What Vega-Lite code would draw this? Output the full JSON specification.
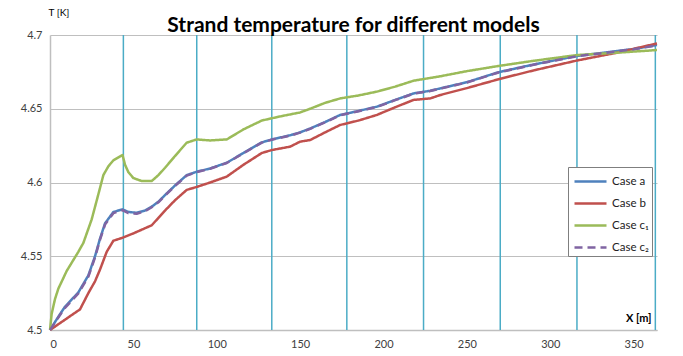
{
  "$schema": "https://vega.github.io/schema/vega-lite/v6.json",
  "width": 607,
  "height": 295,
  "autosize": {"type": "none"},
  "padding": {"left": 50, "top": 35, "right": 26, "bottom": 26},
  "background": "white",
  "config": {
    "view": {"stroke": null},
    "font": "Lato",
    "axisX": {"grid": false, "domainColor": "#bfbfbf", "domainWidth": 1.5, "ticks": false, "labelPadding": 8, "labelFontSize": 11, "labelColor": "#404040", "labelFont": "Lato", "titleFont": "Lato", "titleFontSize": 11, "titleFontWeight": "bold", "titleColor": "#000", "titleX": 601, "titleY": -12, "titleAlign": "right", "titleBaseline": "middle", "titleAngle": 0},
    "axisY": {"grid": true, "gridColor": "#bfbfbf", "gridWidth": 1.2, "domainColor": "#bfbfbf", "domainWidth": 1.5, "ticks": false, "labelPadding": 8, "labelFontSize": 11, "labelColor": "#404040", "labelFont": "Lato", "titleFont": "Lato", "titleFontSize": 10, "titleFontWeight": "normal", "titleColor": "#000", "titleAngle": 0, "titleX": -2, "titleY": -23, "titleAlign": "left", "titleBaseline": "middle"},
    "legend": {"orient": "none", "legendX": 518, "legendY": 132, "strokeColor": "#7f7f7f", "fillColor": "white", "padding": 3, "symbolType": "M-1.6,0H1.6", "symbolSize": 400, "symbolOffset": 8, "symbolStrokeWidth": 2.5, "labelFontSize": 11.5, "labelFont": "Lato", "labelColor": "#222", "rowPadding": 5, "labelOffset": 10, "title": null}
  },
  "title": {"text": "Strand temperature for different models", "font": "Lato", "fontSize": 21, "fontWeight": "bold", "color": "#000", "offset": 4, "baseline": "bottom", "frame": "group", "anchor": "middle", "dy": 54},
  "datasets": {
    "sections": [{"x": 44}, {"x": 88}, {"x": 133}, {"x": 178}, {"x": 224}, {"x": 270}, {"x": 316}, {"x": 363}],
    "curves": [
      {"series": "Case a", "x": 0, "T": 4.5},
      {"series": "Case a", "x": 5, "T": 4.509},
      {"series": "Case a", "x": 9, "T": 4.5158},
      {"series": "Case a", "x": 17, "T": 4.5255},
      {"series": "Case a", "x": 23, "T": 4.537},
      {"series": "Case a", "x": 27, "T": 4.55},
      {"series": "Case a", "x": 30, "T": 4.562},
      {"series": "Case a", "x": 33, "T": 4.5723},
      {"series": "Case a", "x": 38, "T": 4.58},
      {"series": "Case a", "x": 43.4, "T": 4.5818},
      {"series": "Case a", "x": 47, "T": 4.58},
      {"series": "Case a", "x": 52, "T": 4.5795},
      {"series": "Case a", "x": 57, "T": 4.581},
      {"series": "Case a", "x": 61, "T": 4.5836},
      {"series": "Case a", "x": 65, "T": 4.587},
      {"series": "Case a", "x": 69, "T": 4.5915},
      {"series": "Case a", "x": 75, "T": 4.598},
      {"series": "Case a", "x": 82, "T": 4.605},
      {"series": "Case a", "x": 88, "T": 4.6073},
      {"series": "Case a", "x": 96, "T": 4.6095},
      {"series": "Case a", "x": 106, "T": 4.6134},
      {"series": "Case a", "x": 116, "T": 4.62},
      {"series": "Case a", "x": 127, "T": 4.6272},
      {"series": "Case a", "x": 133, "T": 4.6292},
      {"series": "Case a", "x": 144, "T": 4.632},
      {"series": "Case a", "x": 150, "T": 4.634},
      {"series": "Case a", "x": 156, "T": 4.6366},
      {"series": "Case a", "x": 165, "T": 4.641},
      {"series": "Case a", "x": 174, "T": 4.6458},
      {"series": "Case a", "x": 185, "T": 4.6485},
      {"series": "Case a", "x": 196, "T": 4.6514},
      {"series": "Case a", "x": 207, "T": 4.656},
      {"series": "Case a", "x": 218, "T": 4.6604},
      {"series": "Case a", "x": 228, "T": 4.6622},
      {"series": "Case a", "x": 234, "T": 4.6638},
      {"series": "Case a", "x": 250, "T": 4.668},
      {"series": "Case a", "x": 269, "T": 4.6748},
      {"series": "Case a", "x": 290, "T": 4.68},
      {"series": "Case a", "x": 316, "T": 4.6858},
      {"series": "Case a", "x": 332, "T": 4.688},
      {"series": "Case a", "x": 350, "T": 4.6905},
      {"series": "Case a", "x": 364, "T": 4.6932},
      {"series": "Case b", "x": 0, "T": 4.5},
      {"series": "Case b", "x": 9, "T": 4.507},
      {"series": "Case b", "x": 18, "T": 4.514},
      {"series": "Case b", "x": 23, "T": 4.525},
      {"series": "Case b", "x": 27, "T": 4.533},
      {"series": "Case b", "x": 30, "T": 4.541},
      {"series": "Case b", "x": 34, "T": 4.553},
      {"series": "Case b", "x": 38, "T": 4.5605},
      {"series": "Case b", "x": 43.4, "T": 4.5625},
      {"series": "Case b", "x": 50, "T": 4.5655},
      {"series": "Case b", "x": 55, "T": 4.568},
      {"series": "Case b", "x": 61, "T": 4.571},
      {"series": "Case b", "x": 65, "T": 4.576},
      {"series": "Case b", "x": 69, "T": 4.581},
      {"series": "Case b", "x": 75, "T": 4.588},
      {"series": "Case b", "x": 82, "T": 4.595},
      {"series": "Case b", "x": 88, "T": 4.597},
      {"series": "Case b", "x": 96, "T": 4.6},
      {"series": "Case b", "x": 106, "T": 4.604},
      {"series": "Case b", "x": 116, "T": 4.612},
      {"series": "Case b", "x": 127, "T": 4.62},
      {"series": "Case b", "x": 133, "T": 4.622},
      {"series": "Case b", "x": 144, "T": 4.6243},
      {"series": "Case b", "x": 150, "T": 4.6277},
      {"series": "Case b", "x": 156, "T": 4.6288},
      {"series": "Case b", "x": 165, "T": 4.634},
      {"series": "Case b", "x": 174, "T": 4.639},
      {"series": "Case b", "x": 185, "T": 4.642},
      {"series": "Case b", "x": 196, "T": 4.6458},
      {"series": "Case b", "x": 207, "T": 4.651},
      {"series": "Case b", "x": 218, "T": 4.656},
      {"series": "Case b", "x": 228, "T": 4.657},
      {"series": "Case b", "x": 234, "T": 4.6593},
      {"series": "Case b", "x": 250, "T": 4.664},
      {"series": "Case b", "x": 269, "T": 4.67},
      {"series": "Case b", "x": 290, "T": 4.676},
      {"series": "Case b", "x": 316, "T": 4.6827},
      {"series": "Case b", "x": 340, "T": 4.688},
      {"series": "Case b", "x": 364, "T": 4.6943},
      {"series": "Case c₁", "x": 0, "T": 4.5},
      {"series": "Case c₁", "x": 1, "T": 4.511},
      {"series": "Case c₁", "x": 3, "T": 4.521},
      {"series": "Case c₁", "x": 5, "T": 4.528},
      {"series": "Case c₁", "x": 10, "T": 4.54},
      {"series": "Case c₁", "x": 17, "T": 4.553},
      {"series": "Case c₁", "x": 20, "T": 4.559},
      {"series": "Case c₁", "x": 25, "T": 4.575},
      {"series": "Case c₁", "x": 29, "T": 4.592},
      {"series": "Case c₁", "x": 32, "T": 4.605},
      {"series": "Case c₁", "x": 35, "T": 4.611},
      {"series": "Case c₁", "x": 38, "T": 4.615},
      {"series": "Case c₁", "x": 43.5, "T": 4.6186},
      {"series": "Case c₁", "x": 45, "T": 4.612},
      {"series": "Case c₁", "x": 47, "T": 4.607},
      {"series": "Case c₁", "x": 50, "T": 4.603},
      {"series": "Case c₁", "x": 55, "T": 4.601},
      {"series": "Case c₁", "x": 61, "T": 4.601},
      {"series": "Case c₁", "x": 65, "T": 4.605},
      {"series": "Case c₁", "x": 69, "T": 4.61},
      {"series": "Case c₁", "x": 75, "T": 4.618},
      {"series": "Case c₁", "x": 82, "T": 4.627},
      {"series": "Case c₁", "x": 88, "T": 4.6292},
      {"series": "Case c₁", "x": 96, "T": 4.6285},
      {"series": "Case c₁", "x": 106, "T": 4.6292},
      {"series": "Case c₁", "x": 116, "T": 4.636},
      {"series": "Case c₁", "x": 127, "T": 4.642},
      {"series": "Case c₁", "x": 138, "T": 4.6448},
      {"series": "Case c₁", "x": 150, "T": 4.6475},
      {"series": "Case c₁", "x": 156, "T": 4.65},
      {"series": "Case c₁", "x": 165, "T": 4.654},
      {"series": "Case c₁", "x": 174, "T": 4.657},
      {"series": "Case c₁", "x": 185, "T": 4.659},
      {"series": "Case c₁", "x": 196, "T": 4.6616},
      {"series": "Case c₁", "x": 207, "T": 4.665},
      {"series": "Case c₁", "x": 218, "T": 4.669},
      {"series": "Case c₁", "x": 234, "T": 4.672},
      {"series": "Case c₁", "x": 250, "T": 4.6755},
      {"series": "Case c₁", "x": 269, "T": 4.679},
      {"series": "Case c₁", "x": 290, "T": 4.6825},
      {"series": "Case c₁", "x": 316, "T": 4.6864},
      {"series": "Case c₁", "x": 340, "T": 4.688},
      {"series": "Case c₁", "x": 364, "T": 4.6898},
      {"series": "Case c₂", "x": 0, "T": 4.5},
      {"series": "Case c₂", "x": 5, "T": 4.5085},
      {"series": "Case c₂", "x": 9, "T": 4.515},
      {"series": "Case c₂", "x": 17, "T": 4.5248},
      {"series": "Case c₂", "x": 23, "T": 4.5362},
      {"series": "Case c₂", "x": 27, "T": 4.5492},
      {"series": "Case c₂", "x": 30, "T": 4.5612},
      {"series": "Case c₂", "x": 33, "T": 4.5715},
      {"series": "Case c₂", "x": 38, "T": 4.5792},
      {"series": "Case c₂", "x": 43.4, "T": 4.5812},
      {"series": "Case c₂", "x": 47, "T": 4.5792},
      {"series": "Case c₂", "x": 52, "T": 4.5788},
      {"series": "Case c₂", "x": 57, "T": 4.5805},
      {"series": "Case c₂", "x": 61, "T": 4.5832},
      {"series": "Case c₂", "x": 65, "T": 4.5866},
      {"series": "Case c₂", "x": 69, "T": 4.5912},
      {"series": "Case c₂", "x": 75, "T": 4.5977},
      {"series": "Case c₂", "x": 82, "T": 4.6047},
      {"series": "Case c₂", "x": 88, "T": 4.607},
      {"series": "Case c₂", "x": 96, "T": 4.6093},
      {"series": "Case c₂", "x": 106, "T": 4.6132},
      {"series": "Case c₂", "x": 116, "T": 4.6198},
      {"series": "Case c₂", "x": 127, "T": 4.627},
      {"series": "Case c₂", "x": 133, "T": 4.629},
      {"series": "Case c₂", "x": 144, "T": 4.6318},
      {"series": "Case c₂", "x": 150, "T": 4.6338},
      {"series": "Case c₂", "x": 156, "T": 4.6364},
      {"series": "Case c₂", "x": 165, "T": 4.6408},
      {"series": "Case c₂", "x": 174, "T": 4.6456},
      {"series": "Case c₂", "x": 185, "T": 4.6483},
      {"series": "Case c₂", "x": 196, "T": 4.6512},
      {"series": "Case c₂", "x": 207, "T": 4.6558},
      {"series": "Case c₂", "x": 218, "T": 4.6602},
      {"series": "Case c₂", "x": 228, "T": 4.662},
      {"series": "Case c₂", "x": 234, "T": 4.6636},
      {"series": "Case c₂", "x": 250, "T": 4.6678},
      {"series": "Case c₂", "x": 269, "T": 4.6746},
      {"series": "Case c₂", "x": 290, "T": 4.6798},
      {"series": "Case c₂", "x": 316, "T": 4.6856},
      {"series": "Case c₂", "x": 332, "T": 4.6878},
      {"series": "Case c₂", "x": 350, "T": 4.6903},
      {"series": "Case c₂", "x": 364, "T": 4.693}
    ]
  },
  "layer": [
    {
      "data": {"name": "sections"},
      "mark": {"type": "rule", "color": "#4bacc6", "strokeWidth": 1.5},
      "encoding": {
        "x": {"field": "x", "type": "quantitative", "title": "X [m]", "scale": {"domain": [0, 364], "nice": false, "zero": true}, "axis": {"values": [0, 50, 100, 150, 200, 250, 300, 350]}}
      }
    },
    {
      "data": {"name": "curves"},
      "mark": {"type": "line", "strokeWidth": 2.5, "strokeJoin": "round"},
      "encoding": {
        "x": {"field": "x", "type": "quantitative", "title": "X [m]", "scale": {"domain": [0, 364], "nice": false, "zero": true}, "axis": {"values": [0, 50, 100, 150, 200, 250, 300, 350]}},
        "y": {"field": "T", "type": "quantitative", "title": "T [K]", "scale": {"domain": [4.5, 4.7], "nice": false, "zero": false}, "axis": {"values": [4.5, 4.55, 4.6, 4.65, 4.7], "format": ".2~f"}},
        "color": {"field": "series", "type": "nominal", "scale": {"domain": ["Case a", "Case b", "Case c₁", "Case c₂"], "range": ["#4f81bd", "#c0504d", "#9bbb59", "#8064a2"]}},
        "strokeDash": {"field": "series", "type": "nominal", "scale": {"domain": ["Case a", "Case b", "Case c₁", "Case c₂"], "range": [[1, 0], [1, 0], [1, 0], [8, 5]]}}
      }
    }
  ]
}
